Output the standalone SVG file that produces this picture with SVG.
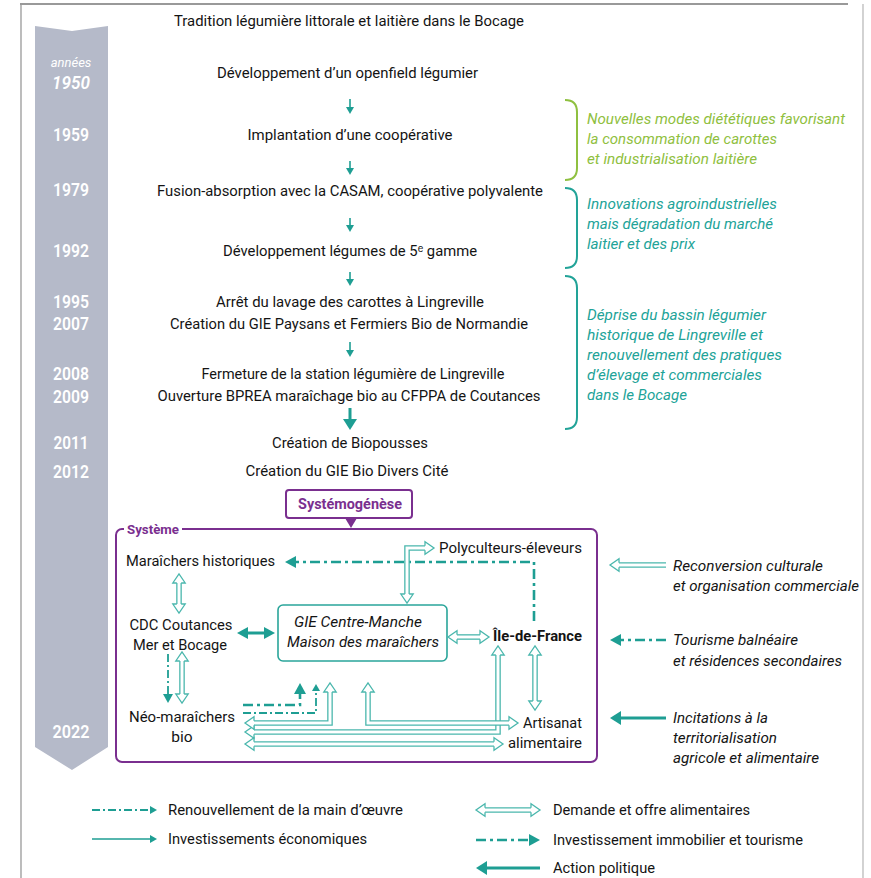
<svg xmlns="http://www.w3.org/2000/svg" width="871" height="878" viewBox="0 0 871 878">
<defs>
<style>
text{font-family:Roboto,"Liberation Sans",sans-serif;fill:#141414}
.t{font-size:15.5px;text-anchor:middle}
.yr{font-size:18px;font-weight:600;fill:#fff;text-anchor:middle}
.br{font-size:15.5px;font-style:italic}
.g{fill:#8fc040}
.tl{fill:#22a398}
.n{font-size:15.5px}
.nc{font-size:15.5px;text-anchor:middle}
.it{font-style:italic}
.lg{font-size:15px}
.pur{fill:#7a2f8f;font-weight:bold}
.so{fill:none;stroke:#1e9e93;stroke-width:1.6}
.sm{fill:none;stroke:#1e9e93;stroke-width:3}
.dd{fill:none;stroke:#1e9e93;stroke-width:2.6;stroke-dasharray:10 4 3 4}
.dt{fill:none;stroke:#1e9e93;stroke-width:1.8;stroke-dasharray:8 3 2 3}
.ho{fill:none;stroke:#4ab7ad;stroke-width:5.6;stroke-linejoin:miter}
.hi{fill:none;stroke:#fff;stroke-width:3;stroke-linejoin:miter}
</style>
<marker id="as" markerUnits="userSpaceOnUse" markerWidth="8" markerHeight="8" refX="0" refY="4" orient="auto-start-reverse" overflow="visible"><path d="M0,0 L7,4 L0,8 z" fill="#1e9e93"/></marker>
<marker id="at" markerUnits="userSpaceOnUse" markerWidth="9" markerHeight="10" refX="0" refY="5" orient="auto-start-reverse" overflow="visible"><path d="M0,0 L9,5 L0,10 z" fill="#1e9e93"/></marker>
<marker id="am" markerUnits="userSpaceOnUse" markerWidth="11" markerHeight="12" refX="0" refY="6" orient="auto-start-reverse" overflow="visible"><path d="M0,0 L11,6 L0,12 z" fill="#1e9e93"/></marker>
<marker id="al" markerUnits="userSpaceOnUse" markerWidth="11" markerHeight="14" refX="0" refY="7" orient="auto-start-reverse" overflow="visible"><path d="M0,0 L11,7 L0,14 z" fill="#1e9e93"/></marker>
<polyline id="hh" points="-9,-2.15 -9,-6.2 0,0 -9,6.2 -9,2.15" fill="#fff" stroke="#4ab7ad" stroke-width="1.3" stroke-linejoin="miter"/>
</defs>

<rect x="0" y="0" width="871" height="878" fill="#fff"/>
<g id="frame" fill="none">
<line x1="20" y1="4" x2="848" y2="4" stroke="#777" stroke-width="1.5"/>
<line x1="21" y1="4" x2="21" y2="878" stroke="#999" stroke-width="1.3"/>
<line x1="863" y1="4" x2="863" y2="878" stroke="#bbb" stroke-width="1.3"/>
</g>

<g id="timeline-band">
<polygon points="35,26 72,31 108,26 108,747 72,770 35,747" fill="#b5bac9"/>
<text x="71" y="67" font-size="13" font-style="italic" text-anchor="middle" style="fill:#fff">années</text>
<text class="yr" x="71" y="89" font-style="italic" textLength="38" lengthAdjust="spacingAndGlyphs">1950</text>
<text class="yr" x="71" y="141" textLength="36" lengthAdjust="spacingAndGlyphs">1959</text>
<text class="yr" x="71" y="196" textLength="36" lengthAdjust="spacingAndGlyphs">1979</text>
<text class="yr" x="71" y="257" textLength="36" lengthAdjust="spacingAndGlyphs">1992</text>
<text class="yr" x="71" y="308" textLength="36" lengthAdjust="spacingAndGlyphs">1995</text>
<text class="yr" x="71" y="330" textLength="36" lengthAdjust="spacingAndGlyphs">2007</text>
<text class="yr" x="71" y="380" textLength="36" lengthAdjust="spacingAndGlyphs">2008</text>
<text class="yr" x="71" y="403" textLength="36" lengthAdjust="spacingAndGlyphs">2009</text>
<text class="yr" x="71" y="449" textLength="35" lengthAdjust="spacingAndGlyphs">2011</text>
<text class="yr" x="71" y="478" textLength="36" lengthAdjust="spacingAndGlyphs">2012</text>
<text class="yr" x="71" y="738" textLength="37" lengthAdjust="spacingAndGlyphs">2022</text>
</g>

<g id="events">
<text id="ev-tradition" class="t" x="349" y="26" textLength="350" lengthAdjust="spacingAndGlyphs">Tradition légumière littorale et laitière dans le Bocage</text>
<text id="ev-openfield" class="t" x="347.5" y="78" textLength="261" lengthAdjust="spacingAndGlyphs">Développement d’un openfield légumier</text>
<text id="ev-coop" class="t" x="350" y="140" textLength="205" lengthAdjust="spacingAndGlyphs">Implantation d’une coopérative</text>
<text id="ev-casam" class="t" x="350" y="196" textLength="386" lengthAdjust="spacingAndGlyphs">Fusion-absorption avec la CASAM, coopérative polyvalente</text>
<text id="ev-5gamme" class="t" x="350" y="256" textLength="254" lengthAdjust="spacingAndGlyphs">Développement légumes de 5ᵉ gamme</text>
<text id="ev-lavage" class="t" x="350" y="307" textLength="268" lengthAdjust="spacingAndGlyphs">Arrêt du lavage des carottes à Lingreville</text>
<text id="ev-gie-paysans" class="t" x="349" y="329" textLength="358" lengthAdjust="spacingAndGlyphs">Création du GIE Paysans et Fermiers Bio de Normandie</text>
<text id="ev-station" class="t" x="353" y="379" textLength="303" lengthAdjust="spacingAndGlyphs">Fermeture de la station légumière de Lingreville</text>
<text id="ev-bprea" class="t" x="349" y="401" textLength="383" lengthAdjust="spacingAndGlyphs">Ouverture BPREA maraîchage bio au CFPPA de Coutances</text>
<text id="ev-biopousses" class="t" x="350" y="448" textLength="156" lengthAdjust="spacingAndGlyphs">Création de Biopousses</text>
<text id="ev-biodivers" class="t" x="347" y="476" textLength="203" lengthAdjust="spacingAndGlyphs">Création du GIE Bio Divers Cité</text>
</g>

<g id="timeline-arrows">
<path class="so" d="M350,99 V107" marker-end="url(#as)"/>
<path class="so" d="M350,161 V168" marker-end="url(#as)"/>
<path class="so" d="M350,218 V225" marker-end="url(#as)"/>
<path class="so" d="M350,272 V279" marker-end="url(#as)"/>
<path class="so" d="M350,342 V350" marker-end="url(#as)"/>
<path class="sm" d="M350,408 V419" stroke-width="3.5" marker-end="url(#al)"/>
</g>

<g id="braces" fill="none" stroke-width="2">
<path d="M565,100 Q577,100 577,112 V168 Q577,180 565,180" stroke="#8fc040"/>
<path d="M565,188 Q577,188 577,200 V256 Q577,268 565,268" stroke="#22a398"/>
<path d="M565,276 Q577,276 577,288 V417 Q577,429 565,429" stroke="#22a398"/>
</g>
<g id="brace-labels" class="br">
<text class="br g" x="587" y="124" textLength="258" lengthAdjust="spacingAndGlyphs">Nouvelles modes diététiques favorisant</text>
<text class="br g" x="587" y="144" textLength="190" lengthAdjust="spacingAndGlyphs">la consommation de carottes</text>
<text class="br g" x="587" y="164" textLength="170" lengthAdjust="spacingAndGlyphs">et industrialisation laitière</text>
<text class="br tl" x="587" y="209" textLength="190" lengthAdjust="spacingAndGlyphs">Innovations agroindustrielles</text>
<text class="br tl" x="587" y="229" textLength="186" lengthAdjust="spacingAndGlyphs">mais dégradation du marché</text>
<text class="br tl" x="587" y="249" textLength="108" lengthAdjust="spacingAndGlyphs">laitier et des prix</text>
<text class="br tl" x="587" y="320" textLength="179" lengthAdjust="spacingAndGlyphs">Déprise du bassin légumier</text>
<text class="br tl" x="587" y="340" textLength="176" lengthAdjust="spacingAndGlyphs">historique de Lingreville et</text>
<text class="br tl" x="587" y="360" textLength="195" lengthAdjust="spacingAndGlyphs">renouvellement des pratiques</text>
<text class="br tl" x="587" y="380" textLength="175" lengthAdjust="spacingAndGlyphs">d’élevage et commerciales</text>
<text class="br tl" x="587" y="400" textLength="100" lengthAdjust="spacingAndGlyphs">dans le Bocage</text>
</g>

<g id="systemogenese">
<rect x="286" y="490" width="126" height="28" rx="3" fill="#fff" stroke="#7a2f8f" stroke-width="2"/>
<text class="pur" x="350" y="509" font-size="15" text-anchor="middle" textLength="104" lengthAdjust="spacingAndGlyphs">Systémogénèse</text>
<polygon points="345,518 357,518 351,528" fill="#7a2f8f"/>
</g>

<g id="systeme">
<rect x="116" y="529" width="481" height="233" rx="6" fill="none" stroke="#7a2f8f" stroke-width="2"/>
<rect x="124" y="522" width="58" height="14" fill="#fff"/>
<text class="pur" x="127" y="534" font-size="13.5" textLength="52" lengthAdjust="spacingAndGlyphs">Système</text>
</g>

<g id="n-maraichers-hist"><text class="n" x="126" y="566" textLength="149" lengthAdjust="spacingAndGlyphs">Maraîchers historiques</text></g>
<g id="n-polyculteurs"><text class="n" x="439" y="553" textLength="143" lengthAdjust="spacingAndGlyphs">Polyculteurs-éleveurs</text></g>
<g id="n-cdc">
<text class="nc" x="181" y="630" textLength="103" lengthAdjust="spacingAndGlyphs">CDC Coutances</text>
<text class="nc" x="180" y="650" textLength="94" lengthAdjust="spacingAndGlyphs">Mer et Bocage</text>
</g>
<g id="n-gie">
<rect x="278" y="605" width="169" height="56" rx="5" fill="#fff" stroke="#2aa59a" stroke-width="1.6"/>
<text class="nc it" x="358" y="627" textLength="128" lengthAdjust="spacingAndGlyphs">GIE Centre-Manche</text>
<text class="nc it" x="363" y="647" textLength="152" lengthAdjust="spacingAndGlyphs">Maison des maraîchers</text>
</g>
<g id="n-idf"><text class="n" x="493" y="641" font-weight="bold" textLength="89" lengthAdjust="spacingAndGlyphs">Île-de-France</text></g>
<g id="n-neo">
<text class="nc" x="182" y="722" textLength="106" lengthAdjust="spacingAndGlyphs">Néo-maraîchers</text>
<text class="nc" x="182" y="742">bio</text>
</g>
<g id="n-artisanat">
<text class="n" x="582" y="728" text-anchor="end" textLength="59" lengthAdjust="spacingAndGlyphs">Artisanat</text>
<text class="n" x="582" y="748" text-anchor="end" textLength="74" lengthAdjust="spacingAndGlyphs">alimentaire</text>
</g>

<g id="n-reconversion">
<text class="n it" x="673" y="571" textLength="150" lengthAdjust="spacingAndGlyphs">Reconversion culturale</text>
<text class="n it" x="673" y="591" textLength="186" lengthAdjust="spacingAndGlyphs">et organisation commerciale</text>
</g>
<g id="n-tourisme">
<text class="n it" x="673" y="645" textLength="125" lengthAdjust="spacingAndGlyphs">Tourisme balnéaire</text>
<text class="n it" x="673" y="666" textLength="169" lengthAdjust="spacingAndGlyphs">et résidences secondaires</text>
</g>
<g id="n-incitations">
<text class="n it" x="673" y="723" textLength="95" lengthAdjust="spacingAndGlyphs">Incitations à la</text>
<text class="n it" x="673" y="743" textLength="104" lengthAdjust="spacingAndGlyphs">territorialisation</text>
<text class="n it" x="673" y="763" textLength="146" lengthAdjust="spacingAndGlyphs">agricole et alimentaire</text>
</g>

<g id="connectors">
<path class="dd" d="M534,621 V562 H296" marker-end="url(#am)"/>
<path class="sm" d="M248,633 H264" marker-start="url(#am)" marker-end="url(#am)"/>
<path class="dt" d="M168,654 V694" stroke-width="2" marker-end="url(#at)"/>
<path class="dd" d="M243,705 H300 V694" marker-end="url(#am)"/>
<path class="dt" d="M243,713 H316 V691" marker-end="url(#as)"/>
<path class="ho" d="M425,548 H407 V594"/><path class="hi" d="M425,548 H407 V594"/>
<path class="ho" d="M179,583 V604"/><path class="hi" d="M179,583 V604"/>
<path class="ho" d="M457,637 H480"/><path class="hi" d="M457,637 H480"/>
<path class="ho" d="M182,661 V694"/><path class="hi" d="M182,661 V694"/>
<path class="ho" d="M535,655 V701"/><path class="hi" d="M535,655 V701"/>
<path class="ho" d="M254,744 H494"/><path class="hi" d="M254,744 H494"/>
<path class="ho" d="M254,732 H498 V655"/><path class="hi" d="M254,732 H498 V655"/>
<path class="ho" d="M254,723 H330 V692"/><path class="hi" d="M254,723 H330 V692"/>
<path class="ho" d="M368,692 V723 H509"/><path class="hi" d="M368,692 V723 H509"/>
<use href="#hh" transform="translate(434,548)"/>
<use href="#hh" transform="translate(407,603) rotate(90)"/>
<use href="#hh" transform="translate(179,574) rotate(-90)"/>
<use href="#hh" transform="translate(179,613) rotate(90)"/>
<use href="#hh" transform="translate(448,637) rotate(180)"/>
<use href="#hh" transform="translate(489,637)"/>
<use href="#hh" transform="translate(182,652) rotate(-90)"/>
<use href="#hh" transform="translate(182,703) rotate(90)"/>
<use href="#hh" transform="translate(535,646) rotate(-90)"/>
<use href="#hh" transform="translate(535,710) rotate(90)"/>
<use href="#hh" transform="translate(245,744) rotate(180)"/>
<use href="#hh" transform="translate(503,744)"/>
<use href="#hh" transform="translate(245,732) rotate(180)"/>
<use href="#hh" transform="translate(498,646) rotate(-90)"/>
<use href="#hh" transform="translate(245,723) rotate(180)"/>
<use href="#hh" transform="translate(330,683) rotate(-90)"/>
<use href="#hh" transform="translate(368,683) rotate(-90)"/>
<use href="#hh" transform="translate(518,723)"/>
<path class="ho" d="M666,565 H619"/><path class="hi" d="M666,565 H619"/>
<use href="#hh" transform="translate(610,565) rotate(180)"/>
<path class="dd" d="M666,640 H621" marker-end="url(#am)"/>
<path class="sm" d="M666,718 H621" marker-end="url(#al)"/>
</g>

<g id="legend">
<path class="dt" d="M92,810 H150" marker-end="url(#as)"/>
<text class="lg" x="168" y="815" textLength="235" lengthAdjust="spacingAndGlyphs">Renouvellement de la main d’œuvre</text>
<path class="so" d="M92,839 H150" marker-end="url(#as)"/>
<text class="lg" x="168" y="844" textLength="199" lengthAdjust="spacingAndGlyphs">Investissements économiques</text>
<path class="ho" d="M485,810 H531"/><path class="hi" d="M485,810 H531"/>
<use href="#hh" transform="translate(476,810) rotate(180)"/>
<use href="#hh" transform="translate(540,810)"/>
<text class="lg" x="553" y="815" textLength="197" lengthAdjust="spacingAndGlyphs">Demande et offre alimentaires</text>
<path class="dd" d="M476,840 H529" marker-end="url(#am)"/>
<text class="lg" x="553" y="845" textLength="250" lengthAdjust="spacingAndGlyphs">Investissement immobilier et tourisme</text>
<path class="sm" d="M540,868 H487" marker-end="url(#al)"/>
<text class="lg" x="553" y="873" textLength="102" lengthAdjust="spacingAndGlyphs">Action politique</text>
</g>
</svg>
